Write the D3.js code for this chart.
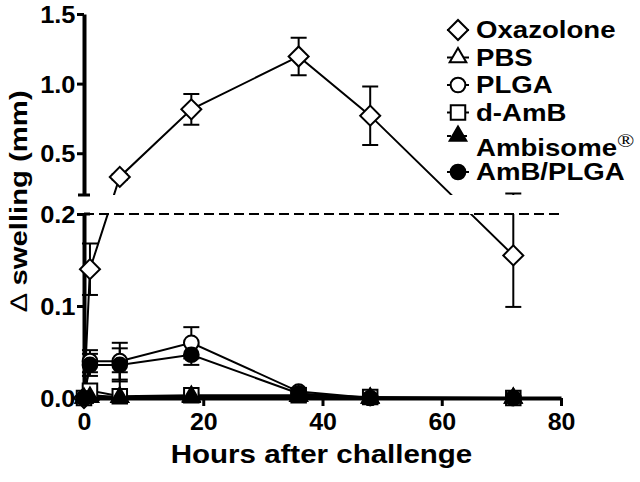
<!DOCTYPE html>
<html>
<head>
<meta charset="utf-8">
<script src="https://cdn.jsdelivr.net/npm/d3@7"></script>
<style>
  body { margin: 0; background: #fff; }
  text { font-family: "Liberation Sans", Arial, sans-serif; font-weight: bold; fill: #000; }
</style>
</head>
<body>
<div id="chart"></div>
<script>
// ---- data ----
const hours = [0, 1, 6, 18, 36, 48, 72];
const seriesNames = ['Oxazolone', 'PBS', 'PLGA', 'd-AmB', 'Ambisome', 'AmB/PLGA'];

const oxazolone    = [0, 0.14, 0.33, 0.815, 1.195, 0.77, 0.155];
const oxazoloneSem = [0, 0.028, 0.02, 0.11, 0.135, 0.21, 0.056];
const pbs          = [0, 0.003, 0.001, 0.001, 0.002, 0, 0];
const pbsSem       = [0, 0.002, 0, 0, 0, 0, 0];
const plga         = [0, 0.040, 0.040, 0.060, 0.007, 0, 0];
const plgaSem      = [0, 0.012, 0.020, 0.017, 0.004, 0, 0];
const dAmb         = [0, 0.008, 0.002, 0.003, 0.003, 0.001, 0];
const dAmbSem      = [0, 0.005, 0.026, 0.002, 0.002, 0, 0];
const ambisome     = [0, 0.001, 0.001, 0.002, 0.002, 0, 0];
const ambisomeSem  = [0, 0, 0, 0, 0, 0, 0];
const ambPlga      = [0, 0.036, 0.036, 0.047, 0.005, 0, 0];
const ambPlgaSem   = [0, 0.012, 0.018, 0.011, 0.003, 0, 0];

const xTicks = [0, 20, 40, 60, 80];
const yTicksLow = [0, 0.1, 0.2];
const yTicksHigh = [0.5, 1.0, 1.5];
const yBreak = 0.2;

const series = [
  { name: 'Oxazolone', values: oxazolone, sem: oxazoloneSem, shape: 'diamond', filled: false },
  { name: 'PBS', values: pbs, sem: pbsSem, shape: 'triangle', filled: false },
  { name: 'PLGA', values: plga, sem: plgaSem, shape: 'circle', filled: false },
  { name: 'd-AmB', values: dAmb, sem: dAmbSem, shape: 'square', filled: false },
  { name: 'Ambisome', values: ambisome, sem: ambisomeSem, shape: 'triangle', filled: true, dashed: true },
  { name: 'AmB/PLGA', values: ambPlga, sem: ambPlgaSem, shape: 'circle', filled: true }
];

const width = 640, height = 482;
const svg = d3.select('#chart').append('svg')
  .attr('width', width)
  .attr('height', height);

// x scale and the two pieces of the broken y axis
const x = d3.scaleLinear().domain([0, 80]).range([84, 561]);
const yLow = d3.scaleLinear().domain([0, yBreak]).range([398, 214]);
const yHigh = d3.scaleLinear().domain([yBreak, 1.5]).range([195, 14]);
const y = v => v <= yBreak ? yLow(v) : yHigh(v);

// stretch text horizontally a bit (reference font runs wide)
function widen(sel, k) {
  sel.attr('transform', `scale(${k},1)`);
}

// clip out the gap between the axis segments (and anything below zero)
const clip = svg.append('clipPath').attr('id', 'seg');
clip.append('rect').attr('x', 0).attr('y', 0).attr('width', width).attr('height', yHigh(yBreak));
clip.append('rect').attr('x', 0).attr('y', yLow(yBreak)).attr('width', width).attr('height', yLow(0) + 1 - yLow(yBreak));

// ---- axes ----
function styleAxis(g) {
  g.select('.domain').attr('stroke-width', 4);
  g.selectAll('.tick line').attr('stroke-width', 3);
  g.selectAll('.tick text').style('font-size', '24px');
}

const axLow = svg.append('g')
  .attr('transform', `translate(${x(0)},0)`)
  .call(d3.axisLeft(yLow).tickValues(yTicksLow).tickFormat(d3.format('.1f'))
    .tickSize(7).tickSizeOuter(0).tickPadding(1));
styleAxis(axLow);
axLow.selectAll('.tick text').attr('dy', '0.36em').call(widen, 1.06);

const axHigh = svg.append('g')
  .attr('transform', `translate(${x(0)},0)`)
  .call(d3.axisLeft(yHigh).tickValues(yTicksHigh).tickFormat(d3.format('.1f'))
    .tickSize(7).tickSizeOuter(0).tickPadding(1));
styleAxis(axHigh);
axHigh.selectAll('.tick text').attr('dy', '0.36em').call(widen, 1.06);

// end caps where the y axis is broken
svg.append('line')
  .attr('x1', x(0) - 6).attr('x2', x(0) + 6)
  .attr('y1', yHigh(yBreak)).attr('y2', yHigh(yBreak))
  .attr('stroke', '#000').attr('stroke-width', 3);
svg.append('line')
  .attr('x1', x(0)).attr('x2', x(0) + 6)
  .attr('y1', yLow(yBreak)).attr('y2', yLow(yBreak))
  .attr('stroke', '#000').attr('stroke-width', 3);

const axX = svg.append('g')
  .attr('transform', `translate(0,${yLow(0)})`)
  .call(d3.axisBottom(x).tickValues(xTicks).tickSize(8).tickSizeOuter(0).tickPadding(7));
styleAxis(axX);
axX.selectAll('.tick text').call(widen, 1.04);

// dashed line at the break
svg.append('line')
  .attr('x1', x(0)).attr('x2', x(80))
  .attr('y1', yLow(yBreak)).attr('y2', yLow(yBreak))
  .attr('stroke', '#000').attr('stroke-width', 2)
  .attr('stroke-dasharray', '10,5');

// axis titles
svg.append('g')
  .attr('transform', `translate(${(x(0) + x(80)) / 2 - 1},463) scale(1.18,1)`)
  .append('text')
  .attr('text-anchor', 'middle')
  .style('font-size', '25px')
  .text('Hours after challenge');

const yTitle = svg.append('g')
  .attr('transform', 'translate(27,201) rotate(-90) scale(1.22,1)')
  .append('text')
  .attr('text-anchor', 'middle')
  .style('font-size', '24px');
yTitle.append('tspan').style('font-weight', 'normal').text('\u2206');
yTitle.append('tspan').text(' swelling (mm)');

// ---- marks ----
function symbolPath(shape) {
  if (shape === 'diamond') return d3.symbol(d3.symbolSquare, 200)();
  if (shape === 'triangle') return d3.symbol(d3.symbolTriangle, 120)();
  if (shape === 'square') return d3.symbol(d3.symbolSquare, 210)();
  return d3.symbol(d3.symbolCircle, 170)();
}

const plot = svg.append('g');
const lineGen = d3.line().x(d => x(d[0])).y(d => y(d[1]));

series.forEach(s => {
  const pts = hours.map((h, i) => [h, s.values[i]]);
  plot.append('path')
    .attr('clip-path', 'url(#seg)')
    .attr('d', lineGen(pts))
    .attr('fill', 'none')
    .attr('stroke', '#000')
    .attr('stroke-width', 2)
    .attr('stroke-dasharray', s.dashed ? '4,3' : null);

  const bars = plot.append('g').attr('clip-path', 'url(#seg)');
  hours.forEach((h, i) => {
    const se = s.sem[i];
    if (!se) return;
    const lo = y(s.values[i] - se), hi = y(s.values[i] + se);
    bars.append('line')
      .attr('x1', x(h)).attr('x2', x(h)).attr('y1', lo).attr('y2', hi)
      .attr('stroke', '#000').attr('stroke-width', 2);
    [lo, hi].forEach(yy => {
      bars.append('line')
        .attr('x1', x(h) - 8).attr('x2', x(h) + 8).attr('y1', yy).attr('y2', yy)
        .attr('stroke', '#000').attr('stroke-width', 2);
    });
  });
});

series.forEach(s => {
  plot.append('g').selectAll('path')
    .data(hours.map((h, i) => [h, s.values[i]]))
    .enter().append('path')
    .attr('d', symbolPath(s.shape))
    .attr('transform', d => `translate(${x(d[0])},${y(d[1])})` + (s.shape === 'diamond' ? ' rotate(45)' : ''))
    .attr('fill', s.filled ? '#000' : '#fff')
    .attr('stroke', '#000')
    .attr('stroke-width', 2);
});

// ---- legend ----
const legendY = [30, 57.5, 85, 112.5, 141, 172];
series.forEach((s, i) => {
  const markY = s.name === 'Ambisome' ? legendY[i] - 5 : legendY[i];
  const textY = s.name === 'Ambisome' ? legendY[i] + 15 : legendY[i] + 8;
  const g = svg.append('g').attr('transform', `translate(458,${markY})`);
  g.append('line')
    .attr('x1', -11).attr('x2', 11)
    .attr('stroke', '#000').attr('stroke-width', 2)
    .attr('stroke-dasharray', s.dashed ? '4,4' : null);
  g.append('path')
    .attr('d', symbolPath(s.shape))
    .attr('transform', s.shape === 'diamond' ? 'rotate(45)' : null)
    .attr('fill', s.filled ? '#000' : '#fff')
    .attr('stroke', '#000')
    .attr('stroke-width', 2);

  const t = svg.append('g')
    .attr('transform', `translate(476,${textY}) scale(1.2,1)`)
    .append('text')
    .style('font-size', '23px')
    .text(s.name);
  if (s.name === 'Ambisome') {
    t.append('tspan')
      .attr('dy', -9)
      .style('font-family', '"Liberation Serif", serif')
      .style('font-weight', 'normal')
      .style('font-size', '19px')
      .text('\u00AE');
  }
});
</script>
</body>
</html>
